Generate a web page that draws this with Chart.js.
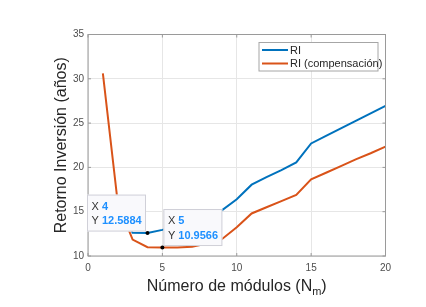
<!DOCTYPE html>
<html>
<head>
<meta charset="utf-8">
<script src="https://cdn.jsdelivr.net/npm/chart.js@4.4.1/dist/chart.umd.min.js"></script>
<style>
  html, body { margin: 0; padding: 0; background: #fff; }
  canvas { display: block; }
</style>
</head>
<body>
<canvas id="ri_chart" width="426" height="307"></canvas>
<script>
// number of modules
const nm = [1, 2, 3, 4, 5, 6, 7, 8, 9, 10, 11, 12, 13, 14, 15, 16, 17, 18, 19, 20];
// payback (years)
const ri = [null, 16.5, 12.62, 12.5884, 12.95, 13.45, 14.0, 14.55, 15.15, 16.4, 18.05, 18.9, 19.7, 20.56, 22.7, 23.55, 24.4, 25.25, 26.1, 26.95];
const ri_comp = [30.6, 16.0, 11.85, 11.0, 10.9566, 10.97, 11.05, 11.4, 11.9, 13.24, 14.8, 15.5, 16.2, 16.9, 18.65, 19.4, 20.15, 20.9, 21.6, 22.35];
const x_ticks = [0, 5, 10, 15, 20];
const y_ticks = [10, 15, 20, 25, 30, 35];
// datatips: dataset index, point index
const tips = [
  { ds: 0, idx: 3, side: "left" },
  { ds: 1, idx: 4, side: "right" },
];

const FONT = "'Liberation Sans', Arial, Helvetica, sans-serif";
const ctx = document.getElementById("ri_chart");

const framePlugin = {
  id: "frame",
  afterDatasetsDraw(chart) {
    const { ctx, chartArea: a, scales } = chart;
    ctx.save();
    ctx.strokeStyle = "#9a9a9a";
    ctx.lineWidth = 1;
    ctx.strokeRect(a.left, a.top, a.right - a.left, a.bottom - a.top);
    ctx.beginPath();
    x_ticks.forEach(v => {
      const px = scales.x.getPixelForValue(v);
      ctx.moveTo(px, a.bottom); ctx.lineTo(px, a.bottom - 3);
      ctx.moveTo(px, a.top); ctx.lineTo(px, a.top + 3);
    });
    y_ticks.forEach(v => {
      const py = scales.y.getPixelForValue(v);
      ctx.moveTo(a.left, py); ctx.lineTo(a.left + 3, py);
      ctx.moveTo(a.right, py); ctx.lineTo(a.right - 3, py);
    });
    ctx.stroke();
    ctx.restore();
  },
};

const tipsPlugin = {
  id: "datatips",
  afterDraw(chart) {
    const c = chart.ctx;
    tips.forEach(t => {
      const pt = chart.getDatasetMeta(t.ds).data[t.idx];
      const raw = chart.data.datasets[t.ds].data[t.idx];
      const w = 59, h = 37;
      const bx = t.side === "left" ? pt.x - 1.5 - w : pt.x + 1;
      const by = pt.y - 1.5 - h;
      c.save();
      c.fillStyle = "#f9f9fc";
      c.strokeStyle = "#d0d0d8";
      c.lineWidth = 1;
      c.fillRect(bx, by, w, h);
      c.strokeRect(bx + 0.5, by + 0.5, w - 1, h - 1);
      c.textBaseline = "middle";
      const rows = [["X", String(raw.x)], ["Y", raw.y.toFixed(4)]];
      rows.forEach((r, i) => {
        const ty = by + 12 + i * 14.5;
        c.font = "11px " + FONT;
        c.fillStyle = "#333333";
        c.fillText(r[0], bx + 4.5, ty);
        const lw = c.measureText(r[0] + " ").width;
        c.font = "bold 11px " + FONT;
        c.fillStyle = "#1e90ff";
        c.fillText(r[1], bx + 4.5 + lw, ty);
      });
      c.fillStyle = "#000";
      c.beginPath();
      c.arc(pt.x, pt.y, 2, 0, Math.PI * 2);
      c.fill();
      c.restore();
    });
  },
};

const legendPlugin = {
  id: "box_legend",
  afterDraw(chart) {
    const c = chart.ctx;
    const a = chart.chartArea;
    const bx = a.right - 126.5, by = a.top + 8, w = 119, h = 28.5;
    c.save();
    c.fillStyle = "#fff";
    c.fillRect(bx, by, w, h);
    c.strokeStyle = "#a6a6a6";
    c.lineWidth = 1;
    c.strokeRect(bx, by, w, h);
    c.font = "11px " + FONT;
    c.textBaseline = "middle";
    chart.data.datasets.forEach((ds, i) => {
      const y = by + 7.5 + i * 13.5;
      c.strokeStyle = ds.borderColor;
      c.lineWidth = 2;
      c.beginPath();
      c.moveTo(bx + 3, y); c.lineTo(bx + 29, y);
      c.stroke();
      c.fillStyle = "#262626";
      c.fillText(ds.label, bx + 31, y + 0.5);
    });
    c.restore();
  },
};

const titlesPlugin = {
  id: "axis_titles",
  afterDraw(chart) {
    const c = chart.ctx;
    const a = chart.chartArea;
    c.save();
    c.fillStyle = "#262626";
    c.textBaseline = "alphabetic";
    // x title with subscript
    const main = "Número de módulos (N", sub = "m", close = ")";
    c.font = "16px " + FONT;
    const w1 = c.measureText(main).width, w3 = c.measureText(close).width;
    c.font = "11px " + FONT;
    const w2 = c.measureText(sub).width;
    let x = (a.left + a.right) / 2 - (w1 + w2 + w3) / 2;
    const y = 291;
    c.font = "16px " + FONT;
    c.fillText(main, x, y);
    c.font = "11px " + FONT;
    c.fillText(sub, x + w1, y + 4);
    c.font = "16px " + FONT;
    c.fillText(close, x + w1 + w2, y);
    // y title
    c.translate(62, (a.top + a.bottom) / 2);
    c.rotate(-Math.PI / 2);
    c.textAlign = "center";
    c.textBaseline = "middle";
    c.font = "16px " + FONT;
    c.fillText("Retorno Inversión (años)", 0, 0);
    c.restore();
  },
};

const ri_chart = new Chart(ctx, {
  type: "line",
  data: {
    datasets: [
      {
        label: "RI",
        data: nm.map((x, i) => ({ x: x, y: ri[i] })),
        borderColor: "#0072BD",
        borderWidth: 2,
        pointRadius: 0,
        tension: 0,
      },
      {
        label: "RI (compensación)",
        data: nm.map((x, i) => ({ x: x, y: ri_comp[i] })),
        borderColor: "#D95319",
        borderWidth: 2,
        pointRadius: 0,
        tension: 0,
      },
    ],
  },
  options: {
    responsive: false,
    animation: false,
    devicePixelRatio: 1,
    layout: { padding: { left: 48, right: 40.5, top: 34.5, bottom: 29 } },
    plugins: {
      legend: { display: false },
      tooltip: { enabled: false },
    },
    scales: {
      x: {
        type: "linear",
        min: 0,
        max: 20,
        afterBuildTicks: s => { s.ticks = x_ticks.map(v => ({ value: v })); },
        afterFit: s => { s.height = 22; },
        ticks: { font: { family: FONT, size: 10 }, color: "#4d4d4d", padding: 6, maxRotation: 0 },
        grid: { color: "#e6e6e6", drawTicks: false },
        border: { display: false },
      },
      y: {
        min: 10,
        max: 35,
        afterBuildTicks: s => { s.ticks = y_ticks.map(v => ({ value: v })); },
        afterFit: s => { s.width = 40; },
        ticks: { font: { family: FONT, size: 10 }, color: "#4d4d4d", padding: 4 },
        grid: { color: "#e6e6e6", drawTicks: false },
        border: { display: false },
      },
    },
  },
  plugins: [framePlugin, tipsPlugin, legendPlugin, titlesPlugin],
});
</script>
</body>
</html>
